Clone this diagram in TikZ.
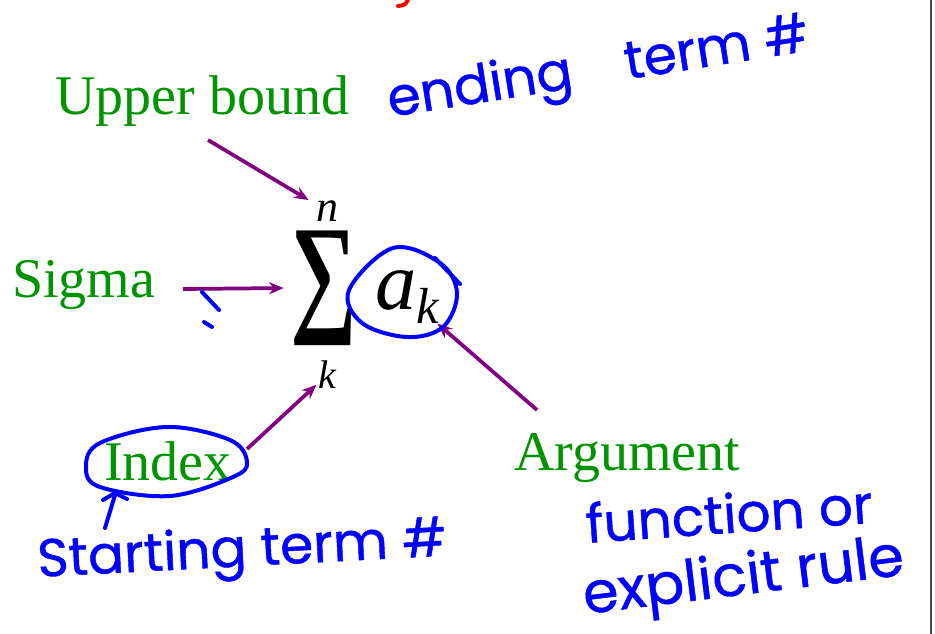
\documentclass[tikz,border=0pt]{standalone}
\usepackage{fontspec}
\usepackage{graphicx}
\setmainfont{Liberation Serif}
\newfontfamily\handfont[FakeBold=0.8]{Poppins}
\usetikzlibrary{arrows.meta}
\definecolor{lblgreen}{RGB}{0,148,0}
\definecolor{arrpurple}{RGB}{128,0,128}
\definecolor{penblue}{RGB}{0,0,255}

\begin{document}
\begin{tikzpicture}[x=0.75pt, y=-0.75pt,
    lbl/.style={lblgreen, font=\fontsize{42}{48}\selectfont, inner sep=0pt, anchor=base west},
    arr/.style={arrpurple, line width=2.8pt, -{Stealth[length=11pt,width=9pt]}},
    pen/.style={penblue, line width=3pt, line cap=round, line join=round},
    hand/.style={penblue, font=\handfont\fontsize{40}{44}\selectfont, inner sep=0pt, anchor=base west}]
    \useasboundingbox (0,0) rectangle (935,634);

    % page edge and stray mark
    \draw[gray!60!black, line width=1.6pt] (931,0) -- (931,634);
    \draw[red, line width=3pt, line cap=round] (408,0) .. controls (405,5) .. (398,6);

    % the sum
    \node[inner sep=0pt] (sumsym) at (324,288) {\resizebox*{50pt}{86pt}{\bfseries ∑}};
    \node[inner sep=1pt] (upn) at (327,211) {\fontsize{33}{36}\selectfont\itshape n};
    \node[inner sep=1pt] (lowk) at (327,375) {\fontsize{30}{34}\selectfont\itshape k};
    \node[inner sep=0pt, anchor=base west] (aterm) at (375,310)
        {\fontsize{62}{66}\selectfont\itshape a\raisebox{-10pt}{\fontsize{38}{40}\selectfont k}};

    % labels
    \node[lbl] (upper) at (55,115) {Upper bound};
    \node[lbl] (sigmalbl) at (12,298) {Sigma};
    \node[lbl] (index) at (104,480) {Index};
    \node[lbl] (argument) at (514,470) {Argument};

    % arrows
    \coordinate (ubtail) at (208,140);
    \coordinate (sgtail) at (183,289);
    \coordinate (ixtail) at (247,449);
    \coordinate (argtail) at (537,410);
    \draw[arr, shorten >=5pt] (ubtail) -- (upn);
    \draw[arr, shorten >=5pt] (sgtail) -- (sumsym.west);
    \draw[arr] (ixtail) -- (lowk);
    \draw[arr] (argtail) -- (aterm);

    % pen notes
    \draw[pen] plot[smooth cycle, tension=0.6] coordinates
        {(86,467) (100,443) (167,427) (230,440) (247,462) (233,477) (170,496) (100,487)};
    \draw[pen] plot[smooth cycle, tension=0.6] coordinates
        {(349,290) (393,248) (440,263) (457,293) (443,327) (407,337) (362,323)};
    \draw[pen] (435,258) -- (460,284);
    \draw[pen] (202,292) -- (219,310);
    \draw[pen] (204,322) -- (212,327);
    \draw[pen] (105,528) -- (115,495);
    \draw[pen] (103,500) -- (115,493) -- (127,499);

    \node[hand, rotate=9] (ending) at (390,117) {ending\quad term \#};
    \node[hand, rotate=3] (starting) at (38,577) {Starting term \#};
    \node[hand, rotate=4] (function) at (587,543) {function or};
    \node[hand, rotate=7, font=\handfont\fontsize{43}{46}\selectfont] (explicit) at (585,614) {explicit rule};
\end{tikzpicture}
\end{document}
